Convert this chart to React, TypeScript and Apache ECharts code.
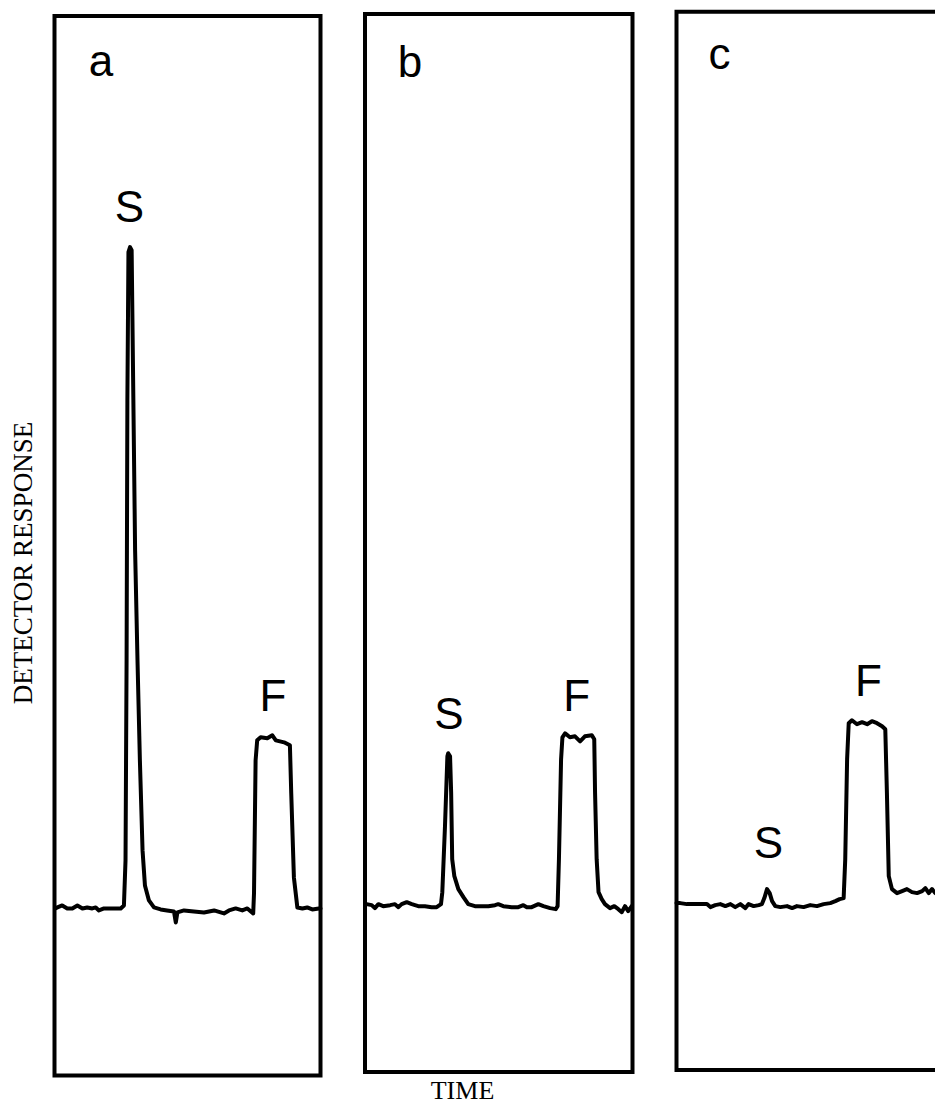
import React, { useEffect, useRef } from "react";
import * as echarts from "echarts";

// Panel a: time (arbitrary units, 0-100) and detector response (baseline = 0)
const timeA = [0.3, 1.1, 2.9, 4.8, 6.7, 8.6, 10.5, 12.3, 14.2, 15.5, 16.7, 18.6, 22.4, 24.9, 26.1, 26.7, 27.1, 27.4, 27.8, 28.4, 29.0, 30.3, 31.2, 32.1, 33.1, 34.0, 35.5, 37.4, 39.9, 42.3, 44.9, 45.6, 46.2, 48.7, 52.4, 56.2, 60.0, 63.7, 65.6, 68.1, 70.6, 72.5, 74.7, 75.0, 75.6, 76.2, 77.5, 80.0, 81.9, 83.2, 86.3, 88.5, 89.0, 90.0, 91.3, 93.2, 95.0, 96.9, 99.4, 100];
const respA = [0.0, 0.1, 0.3, 0.0, 0.0, 0.3, 0.0, 0.1, 0.0, 0.1, -0.2, 0.0, 0.0, 0.0, 0.3, 4.8, 24.8, 50.8, 65.6, 66.1, 65.8, 35.8, 24.8, 14.8, 5.8, 2.3, 0.8, 0.1, -0.1, -0.2, -0.3, -1.4, -0.4, -0.2, -0.3, -0.4, -0.2, -0.5, -0.2, 0.0, -0.2, 0.0, -0.5, 1.5, 14.8, 16.8, 17.1, 17.0, 17.3, 16.8, 16.6, 16.3, 11.5, 3.1, 0.1, 0.0, 0.1, -0.1, 0.0, 0.0];

// Panel b
const timeB = [0.0, 0.6, 2.5, 3.7, 5.0, 6.8, 9.4, 11.2, 12.5, 13.7, 15.6, 17.5, 19.9, 22.4, 24.9, 26.8, 28.4, 28.9, 29.9, 30.8, 31.1, 31.8, 32.2, 32.6, 33.4, 34.9, 36.8, 38.6, 41.1, 43.6, 46.1, 48.6, 49.8, 51.7, 54.8, 57.3, 59.2, 60.5, 62.3, 64.8, 66.7, 69.2, 71.3, 72.0, 72.5, 73.3, 73.8, 74.8, 76.6, 78.5, 80.4, 82.2, 84.8, 85.7, 86.0, 86.6, 87.3, 88.5, 89.7, 91.6, 93.2, 94.7, 96.0, 97.2, 98.4, 99.7];
const respB = [0.1, 0.1, 0.0, -0.3, 0.1, -0.1, 0.0, 0.1, -0.2, 0.1, 0.3, 0.1, -0.1, -0.1, -0.2, -0.2, 0.1, 1.3, 7.9, 14.9, 15.2, 14.9, 11.3, 4.6, 2.9, 1.6, 0.8, 0.1, -0.1, -0.1, -0.1, 0.0, 0.1, -0.1, -0.2, -0.2, 0.0, -0.2, -0.2, 0.1, -0.1, -0.3, -0.4, -0.1, 4.6, 14.6, 16.8, 17.2, 16.8, 16.9, 16.4, 16.9, 17.0, 16.6, 11.3, 4.6, 1.3, 0.6, 0.1, -0.3, -0.1, -0.4, -0.7, -0.1, -0.6, -0.1];

// Panel c
const timeC = [0.0, 1.4, 3.9, 6.4, 8.9, 11.4, 12.7, 14.5, 16.4, 18.3, 20.2, 22.0, 23.9, 25.8, 27.0, 28.9, 30.8, 32.0, 32.9, 33.9, 34.9, 35.8, 37.0, 38.9, 41.4, 43.3, 45.1, 47.6, 50.1, 52.6, 55.1, 57.6, 59.5, 61.1, 62.6, 63.2, 63.9, 64.5, 65.7, 67.6, 69.5, 71.4, 73.2, 75.1, 77.0, 78.2, 78.8, 79.5, 80.7, 82.6, 84.5, 86.3, 88.2, 90.1, 92.0, 93.2, 94.5, 95.7, 96.9, 99.5];
const respC = [0.0, 0.0, -0.1, -0.1, -0.1, -0.1, -0.4, -0.2, -0.1, -0.3, -0.1, -0.4, -0.1, -0.5, -0.1, -0.3, -0.2, -0.1, 0.5, 1.4, 1.0, 0.2, -0.3, -0.4, -0.3, -0.5, -0.3, -0.4, -0.2, -0.3, -0.1, 0.0, 0.2, 0.4, 0.5, 4.4, 14.4, 18.0, 18.3, 17.9, 18.1, 17.9, 18.2, 18.0, 17.7, 17.4, 11.1, 2.7, 1.4, 1.0, 1.2, 1.4, 1.1, 1.0, 1.2, 1.5, 1.0, 1.4, 1.0, 1.2];

const panelNames = ["a", "b", "c"];
const peakNames = ["S", "F"];
const xAxisTitle = "TIME";
const yAxisTitle = "DETECTOR RESPONSE";

const Y_MIN = -16.7;
const Y_MAX = 89.2;

export default function App() {
  const ref = useRef<HTMLDivElement>(null);

  useEffect(() => {
    if (!ref.current) return;
    document.body.style.margin = "0";
    const chart = echarts.init(ref.current, null, { renderer: "svg" });

    const gridBoxes: any[] = [
      { left: 54.5, top: 16, width: 266, height: 1059.5 },
      { left: 365, top: 14, width: 267.5, height: 1058 },
      { left: 676.5, top: 11.7, width: 267, height: 1058.3 },
    ];
    const traces = [
      [timeA, respA],
      [timeB, respB],
      [timeC, respC],
    ];

    const labelFont = '44px "Liberation Sans", Arial, sans-serif';
    const serifFont = '"Liberation Serif", "Times New Roman", serif';

    const txt = (text: string, x: number, y: number, font: string, rotation = 0, lineHeight?: number) => ({
      type: "text",
      x,
      y,
      rotation,
      silent: true,
      style: {
        text,
        font,
        fill: "#000",
        align: "center",
        verticalAlign: "middle",
        textAlign: "center",
        textVerticalAlign: "middle",
        ...(lineHeight ? { lineHeight } : {}),
      },
    });

    const panelLabelPos = [
      [101, 60],
      [410, 61],
      [719.5, 53],
    ];
    const peakLabelPos = [
      [[129.5, 206], [273, 695]],
      [[449, 713], [576.7, 695]],
      [[768.5, 842], [868.5, 680]],
    ];

    const graphics: any[] = [];
    panelNames.forEach((n, i) => {
      graphics.push(txt(n, panelLabelPos[i][0], panelLabelPos[i][1], labelFont));
      peakNames.forEach((p, j) => {
        graphics.push(txt(p, peakLabelPos[i][j][0], peakLabelPos[i][j][1], labelFont));
      });
    });
    graphics.push(txt(xAxisTitle, 462.5, 1090, `26px ${serifFont}`, 0, 20));
    graphics.push(txt(yAxisTitle, 23, 563, `27px ${serifFont}`, Math.PI / 2));

    chart.setOption({
      animation: false,
      backgroundColor: "#fff",
      grid: gridBoxes.map((g) => ({
        ...g,
        show: true,
        borderColor: "#000",
        borderWidth: 4,
        backgroundColor: "transparent",
        containLabel: false,
        outerBoundsMode: "none",
      })),
      xAxis: gridBoxes.map((_, i) => ({
        type: "value",
        gridIndex: i,
        min: 0,
        max: 100,
        show: false,
        splitLine: { show: false },
      })),
      yAxis: gridBoxes.map((_, i) => ({
        type: "value",
        gridIndex: i,
        min: Y_MIN,
        max: Y_MAX,
        show: false,
        splitLine: { show: false },
      })),
      series: traces.map(([t, r], i) => ({
        type: "line",
        xAxisIndex: i,
        yAxisIndex: i,
        data: t.map((v, k) => [v, r[k]]),
        symbol: "none",
        silent: true,
        lineStyle: { color: "#000", width: 4, join: "round", cap: "round" },
      })),
      graphic: graphics,
    });

    return () => {
      chart.dispose();
    };
  }, []);

  return (
    <div
      ref={ref}
      style={{ position: "fixed", left: 0, top: 0, width: 935, height: 1105, background: "#fff" }}
    />
  );
}
